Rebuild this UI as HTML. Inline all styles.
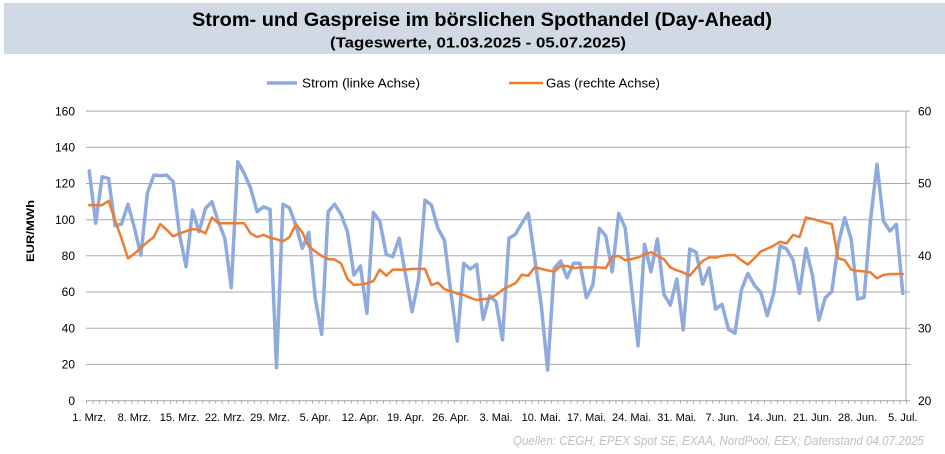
<!DOCTYPE html>
<html><head><meta charset="utf-8"><style>
html,body{margin:0;padding:0;background:#fff;}
svg{display:block;}
text{font-family:"Liberation Sans",sans-serif;}
</style></head><body>
<svg width="945" height="454" viewBox="0 0 945 454" xmlns="http://www.w3.org/2000/svg">
<rect x="0" y="0" width="945" height="454" fill="#fff"/>
<rect x="4" y="3" width="941" height="51" fill="#d0d9e4"/>
<text x="482" y="26" text-anchor="middle" font-size="19" font-weight="bold" fill="#000" textLength="580" lengthAdjust="spacingAndGlyphs">Strom- und Gaspreise im börslichen Spothandel (Day-Ahead)</text>
<text x="478" y="47.5" text-anchor="middle" font-size="14.5" font-weight="bold" fill="#000" textLength="296" lengthAdjust="spacingAndGlyphs">(Tageswerte, 01.03.2025 - 05.07.2025)</text>
<line x1="267" y1="83" x2="297" y2="83" stroke="#8faadc" stroke-width="3.5"/>
<text x="302" y="87.5" font-size="13" fill="#000" textLength="118" lengthAdjust="spacingAndGlyphs">Strom (linke Achse)</text>
<line x1="509" y1="83" x2="543" y2="83" stroke="#ed7d31" stroke-width="2.5"/>
<text x="546" y="87.5" font-size="13" fill="#000" textLength="114" lengthAdjust="spacingAndGlyphs">Gas (rechte Achse)</text>
<g stroke="#aaaaaa" stroke-width="1">
<line x1="86" y1="111.1" x2="910" y2="111.1"/>
<line x1="86" y1="147.3" x2="910" y2="147.3"/>
<line x1="86" y1="183.5" x2="910" y2="183.5"/>
<line x1="86" y1="219.7" x2="910" y2="219.7"/>
<line x1="86" y1="255.8" x2="910" y2="255.8"/>
<line x1="86" y1="292.0" x2="910" y2="292.0"/>
<line x1="86" y1="328.2" x2="910" y2="328.2"/>
<line x1="86" y1="364.4" x2="910" y2="364.4"/>
<line x1="86" y1="400.6" x2="910" y2="400.6"/>
<line x1="906" y1="111.1" x2="906" y2="400.6"/>
</g>
<line x1="86" y1="402.2" x2="907" y2="402.2" stroke="#aaaaaa" stroke-width="3" stroke-dasharray="1 5.457"/>
<g font-size="12" fill="#000" text-anchor="end">
<text x="75" y="115.3">160</text>
<text x="75" y="151.5">140</text>
<text x="75" y="187.7">120</text>
<text x="75" y="223.9">100</text>
<text x="75" y="260">80</text>
<text x="75" y="296.2">60</text>
<text x="75" y="332.4">40</text>
<text x="75" y="368.6">20</text>
<text x="75" y="404.8">0</text>
</g>
<g font-size="12" fill="#000">
<text x="918" y="115.3">60</text>
<text x="918" y="187.7">50</text>
<text x="918" y="260">40</text>
<text x="918" y="332.4">30</text>
<text x="918" y="404.8">20</text>
</g>
<text transform="translate(34,231) rotate(-90)" text-anchor="middle" font-size="11" font-weight="bold" fill="#000" textLength="62" lengthAdjust="spacingAndGlyphs">EUR/MWh</text>
<g font-size="11" fill="#000" text-anchor="middle">
<text x="89.2" y="421">1. Mrz.</text>
<text x="134.4" y="421">8. Mrz.</text>
<text x="179.6" y="421">15. Mrz.</text>
<text x="224.8" y="421">22. Mrz.</text>
<text x="270.0" y="421">29. Mrz.</text>
<text x="315.2" y="421">5. Apr.</text>
<text x="360.4" y="421">12. Apr.</text>
<text x="405.6" y="421">19. Apr.</text>
<text x="450.8" y="421">26. Apr.</text>
<text x="496.0" y="421">3. Mai.</text>
<text x="541.2" y="421">10. Mai.</text>
<text x="586.4" y="421">17. Mai.</text>
<text x="631.6" y="421">24. Mai.</text>
<text x="676.8" y="421">31. Mai.</text>
<text x="722.0" y="421">7. Jun.</text>
<text x="767.2" y="421">14. Jun.</text>
<text x="812.4" y="421">21. Jun.</text>
<text x="857.6" y="421">28. Jun.</text>
<text x="902.8" y="421">5. Jul.</text>
</g>
<text x="513" y="445" font-size="13" font-style="italic" fill="#bfbfbf" textLength="411" lengthAdjust="spacingAndGlyphs">Quellen: CEGH, EPEX Spot SE, EXAA, NordPool, EEX; Datenstand 04.07.2025</text>
<g transform="translate(89.23,400.6) scale(6.457,-1.8094)">
<polyline fill="none" stroke="#8faadc" stroke-width="3.5" stroke-linejoin="round" stroke-linecap="round" vector-effect="non-scaling-stroke" points="0,127 1,98 2,123.7 3,122.8 4,96.6 5,97.6 6,108.5 7,95.5 8,80.4 9,114.5 10,124.6 11,124.3 12,124.6 13,121 14,91.5 15,74 16,105.3 17,93.3 18,106.2 19,109.9 20,98.8 21,89.7 22,62.4 23,132 24,125.6 25,117.3 26,104.4 27,107.1 28,105.7 29,18.2 30,108.5 31,106.6 32,97 33,84.1 34,93 35,56.5 36,36.6 37,104.4 38,108.5 39,102.9 40,93.3 41,69.4 42,74.4 43,48.2 44,104 45,99.2 46,80.8 47,79.5 48,89.7 49,69.4 50,49.1 51,66.6 52,110.8 53,108 54,95.2 55,88.7 56,60.2 57,32.9 58,75.9 59,72.7 60,75.3 61,44.9 62,58 63,54.6 64,33.5 65,89.7 66,91.9 67,98 68,103.5 69,78.6 70,52.8 71,16.9 72,73.1 73,77.1 74,67.9 75,75.9 76,75.9 77,56.9 78,63.9 79,95.2 80,91.1 81,71.2 82,103.5 83,95.5 84,62 85,30.3 86,86.4 87,71.2 88,89.3 89,58.7 90,52.8 91,67.2 92,39 93,83.8 94,81.9 95,64.4 96,73.4 97,50.6 98,53.2 99,39.4 100,37.2 101,61.1 102,70.3 103,63.9 104,59.8 105,46.9 106,59.3 107,85.6 108,83.8 109,77.7 110,59.3 111,84.1 112,69.4 113,44.5 114,56.9 115,60.2 116,86.4 117,101.1 118,89.3 119,56.1 120,57 121,99.8 122,130.7 123,99.2 124,93.7 125,97.4 126,59.3"/>
</g>
<g transform="translate(89.23,545.35) scale(6.457,-7.2375)">
<polyline fill="none" stroke="#ed7d31" stroke-width="2.5" stroke-linejoin="round" stroke-linecap="round" vector-effect="non-scaling-stroke" points="0,47 1,47 2,47 3,47.6 4,44.9 5,42.4 6,39.65 7,40.3 8,41.1 9,41.9 10,42.6 11,44.4 12,43.6 13,42.7 14,43.1 15,43.4 16,43.7 17,43.6 18,43.1 19,45.3 20,44.5 21,44.5 22,44.5 23,44.5 24,44.5 25,43.1 26,42.6 27,42.9 28,42.5 29,42.3 30,42.0 31,42.6 32,44.35 33,43.25 34,41.3 35,40.6 36,40.0 37,39.55 38,39.5 39,38.95 40,36.8 41,35.97 42,36.06 43,36.2 44,36.5 45,38.1 46,37.25 47,38.1 48,38.1 49,38.1 50,38.2 51,38.2 52,38.2 53,35.97 54,36.3 55,35.4 56,35.1 57,34.8 58,34.6 59,34.2 60,33.9 61,34.0 62,34.1 63,34.6 64,35.3 65,35.8 66,36.2 67,37.4 68,37.25 69,38.45 70,38.2 71,38.0 72,37.8 73,38.6 74,38.6 75,38.3 76,38.4 77,38.4 78,38.4 79,38.4 80,38.3 81,39.9 82,40.0 83,39.4 84,39.55 85,39.8 86,40.2 87,40.5 88,40.0 89,39.55 90,38.4 91,38.0 92,37.7 93,37.25 94,38.3 95,39.3 96,39.8 97,39.75 98,40.0 99,40.1 100,40.1 101,39.4 102,38.8 103,39.65 104,40.6 105,41.0 106,41.4 107,41.95 108,41.7 109,42.9 110,42.6 111,45.3 112,45.1 113,44.85 114,44.6 115,44.4 116,39.65 117,39.4 118,38.1 119,37.9 120,37.85 121,37.7 122,36.9 123,37.35 124,37.5 125,37.5 126,37.5"/>
</g>
</svg>
</body></html>
